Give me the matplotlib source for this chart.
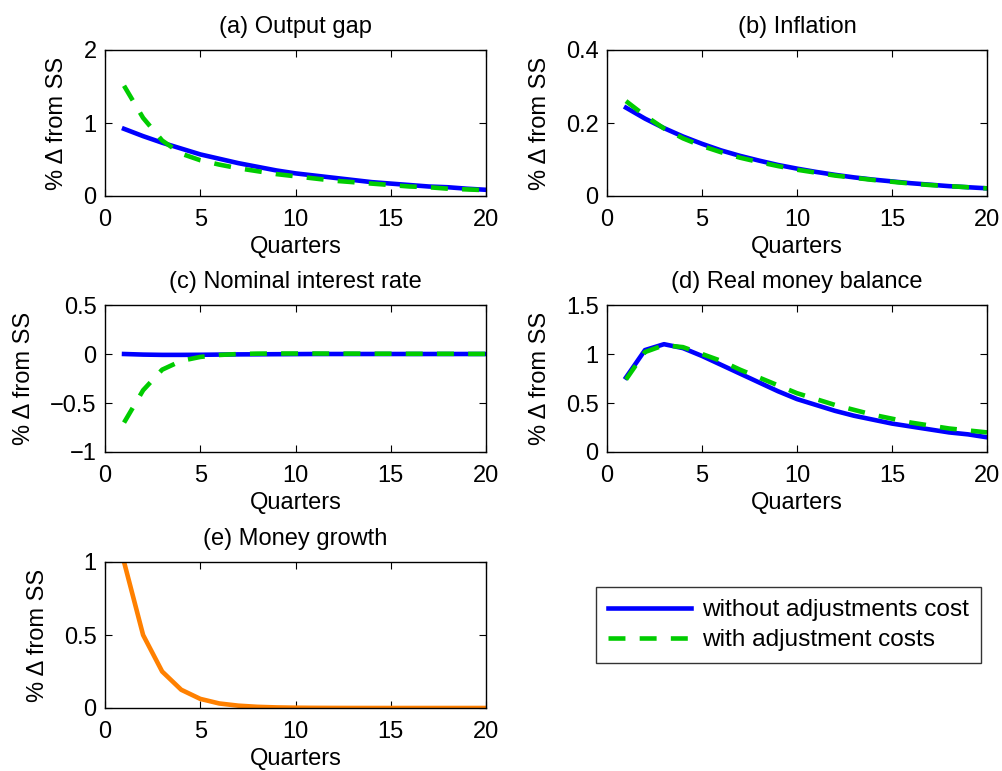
import matplotlib
matplotlib.use("Agg")
import matplotlib.pyplot as plt
import numpy as np

plt.rcParams['font.family'] = ['Liberation Sans', 'DejaVu Sans']

quarters = list(range(1, 21))

out_without = [0.92, 0.82, 0.73, 0.65, 0.57, 0.51, 0.45, 0.40, 0.35, 0.31,
               0.28, 0.25, 0.22, 0.19, 0.17, 0.15, 0.13, 0.12, 0.10, 0.085]
out_with = [1.51, 1.07, 0.76, 0.58, 0.49, 0.43, 0.38, 0.34, 0.30, 0.27,
            0.24, 0.21, 0.19, 0.17, 0.15, 0.13, 0.12, 0.10, 0.09, 0.08]

inf_without = [0.242, 0.212, 0.186, 0.163, 0.143, 0.125, 0.110, 0.097, 0.085, 0.075,
               0.066, 0.058, 0.051, 0.045, 0.040, 0.035, 0.031, 0.027, 0.024, 0.021]
inf_with = [0.26, 0.22, 0.185, 0.158, 0.137, 0.120, 0.105, 0.093, 0.082, 0.072,
            0.064, 0.056, 0.050, 0.044, 0.039, 0.034, 0.030, 0.027, 0.024, 0.021]

rate_without = [0.0, -0.006, -0.009, -0.009, -0.008, -0.006, -0.004, -0.003, -0.002, -0.001,
                0.0, 0.0, 0.0, 0.0, 0.0, 0.0, 0.0, 0.0, 0.0, 0.0]
rate_with = [-0.70, -0.37, -0.16, -0.07, -0.03, -0.01, 0.0, 0.004, 0.005, 0.005,
             0.005, 0.004, 0.004, 0.003, 0.003, 0.002, 0.002, 0.002, 0.001, 0.001]

money_without = [0.76, 1.04, 1.10, 1.06, 0.98, 0.89, 0.80, 0.71, 0.62, 0.54,
                 0.48, 0.42, 0.37, 0.33, 0.29, 0.26, 0.23, 0.20, 0.18, 0.15]
money_with = [0.74, 1.02, 1.09, 1.07, 1.00, 0.93, 0.84, 0.76, 0.68, 0.60,
              0.54, 0.48, 0.43, 0.38, 0.34, 0.30, 0.27, 0.24, 0.22, 0.20]

growth = [1.0, 0.5, 0.25, 0.125, 0.0625, 0.031, 0.016, 0.008, 0.004, 0.002,
          0.001, 0.0005, 0.0002, 0.0001, 0.0, 0.0, 0.0, 0.0, 0.0, 0.0]

titles = ["(a) Output gap", "(b) Inflation", "(c) Nominal interest rate",
          "(d) Real money balance", "(e) Money growth"]
ylims = [(0, 2), (0, 0.4), (-1, 0.5), (0, 1.5), (0, 1)]
yticks = [[0, 1, 2], [0, 0.2, 0.4], [-1, -0.5, 0, 0.5], [0, 0.5, 1, 1.5], [0, 0.5, 1]]
yticklabels = [["0", "1", "2"], ["0", "0.2", "0.4"], ["\u22121", "\u22120.5", "0", "0.5"],
               ["0", "0.5", "1", "1.5"], ["0", "0.5", "1"]]

W, H = 1002, 771
fig = plt.figure(figsize=(W / 100, H / 100), dpi=100)

cols = [(105, 486), (607, 987)]
rows = [(50, 196), (305, 452), (562, 708)]

def make_ax(r, c):
    x0, x1 = cols[c]
    y0, y1 = rows[r]
    return fig.add_axes([x0 / W, 1 - y1 / H, (x1 - x0) / W, (y1 - y0) / H])

blue = (0, 0, 1)
green = (0, 0.8, 0)
orange = (1, 0.5, 0)
FS = 17
lw = 3.3

panels = [(0, 0, out_without, out_with), (0, 1, inf_without, inf_with),
          (1, 0, rate_without, rate_with), (1, 1, money_without, money_with),
          (2, 0, growth, None)]

for i, (r, c, s1, s2) in enumerate(panels):
    ax = make_ax(r, c)
    if s2 is None:
        ax.plot(quarters, s1, color=orange, lw=lw)
    else:
        l1, = ax.plot(quarters, s1, color=blue, lw=lw, label="without adjustments cost")
        l2, = ax.plot(quarters, s2, color=green, lw=lw, ls=(0, (3.7, 3.1)),
                      label="with adjustment costs")
    ax.set_xlim(0, 20)
    ax.set_ylim(*ylims[i])
    ax.set_xticks([0, 5, 10, 15, 20])
    ax.set_yticks(yticks[i])
    ax.set_yticklabels(yticklabels[i])
    ax.tick_params(direction='in', top=True, right=True, labelsize=FS, length=5,
                   width=0.8)
    ax.tick_params(axis='x', pad=9)
    ax.tick_params(axis='y', pad=6)
    for sp in ax.spines.values():
        sp.set_linewidth(1.0)
    ax.set_title(titles[i], fontsize=FS, pad=12)
    ax.set_xlabel("Quarters", fontsize=FS, labelpad=4)
    ax.set_ylabel("% \u0394 from SS", fontsize=FS, labelpad=11)

leg = fig.legend(handles=[l1, l2], loc='upper left',
                 bbox_to_anchor=(596 / W, 1 - 587 / H), fontsize=17.6,
                 frameon=True, fancybox=False, edgecolor='black', handlelength=3.4,
                 borderpad=0.5, labelspacing=0.32, handletextpad=0.45, borderaxespad=0)
leg.get_frame().set_linewidth(1.0)
fig.canvas.draw()
# widen frame a little on the right to match the reference box
frame = leg.get_frame()
frame.set_width(frame.get_width() + 7)

fig.savefig("out.png", dpi=100)
